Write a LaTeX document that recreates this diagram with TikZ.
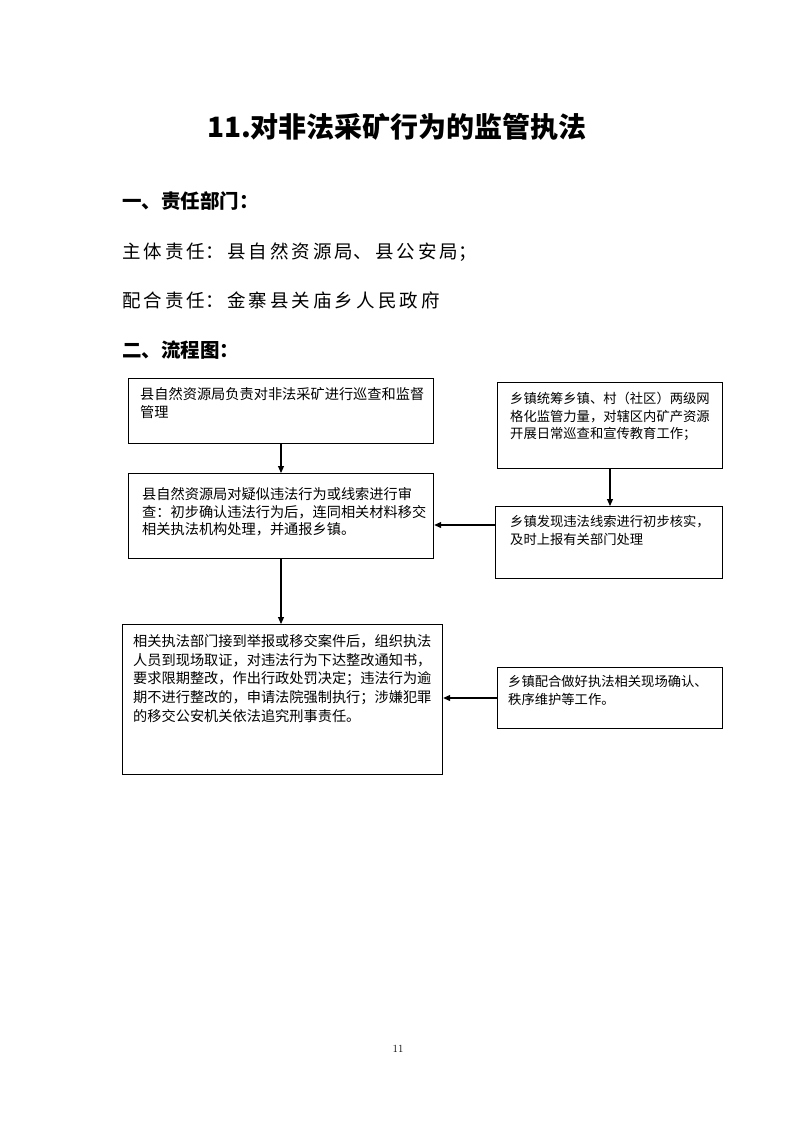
\documentclass[tikz,border=0pt]{standalone}
\usepackage{fontspec}
\usetikzlibrary{arrows.meta}
\newfontfamily\cjk{Noto Sans CJK SC}
\begin{document}
\begin{tikzpicture}[x=1pt,y=-1pt,
  box/.style={draw, line width=1.2pt, rectangle, inner sep=0pt, anchor=north west},
  txt/.style={anchor=north west, inner sep=0pt, align=left, font=\cjk\fontsize{14.2}{17.8}\selectfont},
  txtr/.style={anchor=north west, inner sep=0pt, align=left, font=\cjk\fontsize{13.3}{17.6}\selectfont},
  arr/.style={line width=1.1pt, -{Triangle[length=7pt,width=6pt]}},
  hd/.style={anchor=west, inner sep=0pt, font=\cjk\bfseries\fontsize{19.5}{24}\selectfont},
  body/.style={anchor=west, inner sep=0pt, font=\cjk\fontsize{18.5}{24}\selectfont}]
\useasboundingbox[fill=white] (0,0) rectangle (793,1122);

\node[anchor=center, inner sep=0pt, font=\cjk\bfseries\fontsize{28}{32}\selectfont] (title) at (397,127) {11.对非法采矿行为的监管执法};

\node[hd] (h1) at (122,201) {一、责任部门：};
\node[body] (l1) at (122,252) {主\,体\,责\,任：\,县\,自\,然\,资\,源\,局、\,县\,公\,安\,局；};
\node[body] (l2) at (122,300) {配\,合\,责\,任：\,金\,寨\,县\,关\,庙\,乡\,人\,民\,政\,府};
\node[hd] (h2) at (122,350) {二、流程图：};

% boxes
\node[box, minimum width=305, minimum height=65] (b1) at (128,378) {};
\node[box, minimum width=305, minimum height=85] (b2) at (128,473) {};
\node[box, minimum width=225, minimum height=86] (b3) at (497,382) {};
\node[box, minimum width=227, minimum height=72] (b4) at (495,506) {};
\node[box, minimum width=320, minimum height=150] (b5) at (122,624) {};
\node[box, minimum width=225, minimum height=61] (b6) at (497,667) {};

% texts
\node[txt] (t1) at (140,387) {县自然资源局负责对非法采矿进行巡查和监督\\管理};
\node[txt] (t2) at (142,487) {县自然资源局对疑似违法行为或线索进行审\\查：初步确认违法行为后，连同相关材料移交\\相关执法机构处理，并通报乡镇。};
\node[txtr] (t3) at (510,392) {乡镇统筹乡镇、村（社区）两级网\\格化监管力量，对辖区内矿产资源\\开展日常巡查和宣传教育工作；};
\node[txtr] (t4) at (510,515) {乡镇发现违法线索进行初步核实，\\及时上报有关部门处理};
\node[txtr] (t5x) at (508,675) {乡镇配合做好执法相关现场确认、\\秩序维护等工作。};
\node[txt, font=\cjk\fontsize{14.2}{18.8}\selectfont] (t5) at (133,634) {相关执法部门接到举报或移交案件后，组织执法\\人员到现场取证，对违法行为下达整改通知书，\\要求限期整改，作出行政处罚决定；违法行为逾\\期不进行整改的，申请法院强制执行；涉嫌犯罪\\的移交公安机关依法追究刑事责任。};

% connectors
\draw[arr] (b1.south -| 281,0) -- (b2.north -| 281,0);
\draw[arr] (b2.south -| 281,0) -- (b5.north -| 281,0);
\draw[arr] (b3.south -| 610,0) -- (b4.north -| 610,0);
\draw[arr] (b4.west |- 0,525) -- (b2.east |- 0,525);
\draw[arr] (b6.west |- 0,698) -- (b5.east |- 0,698);

\node[anchor=center, inner sep=0pt, font=\fontsize{11}{13}\selectfont] (pg) at (398,1049) {11};
\end{tikzpicture}
\end{document}
